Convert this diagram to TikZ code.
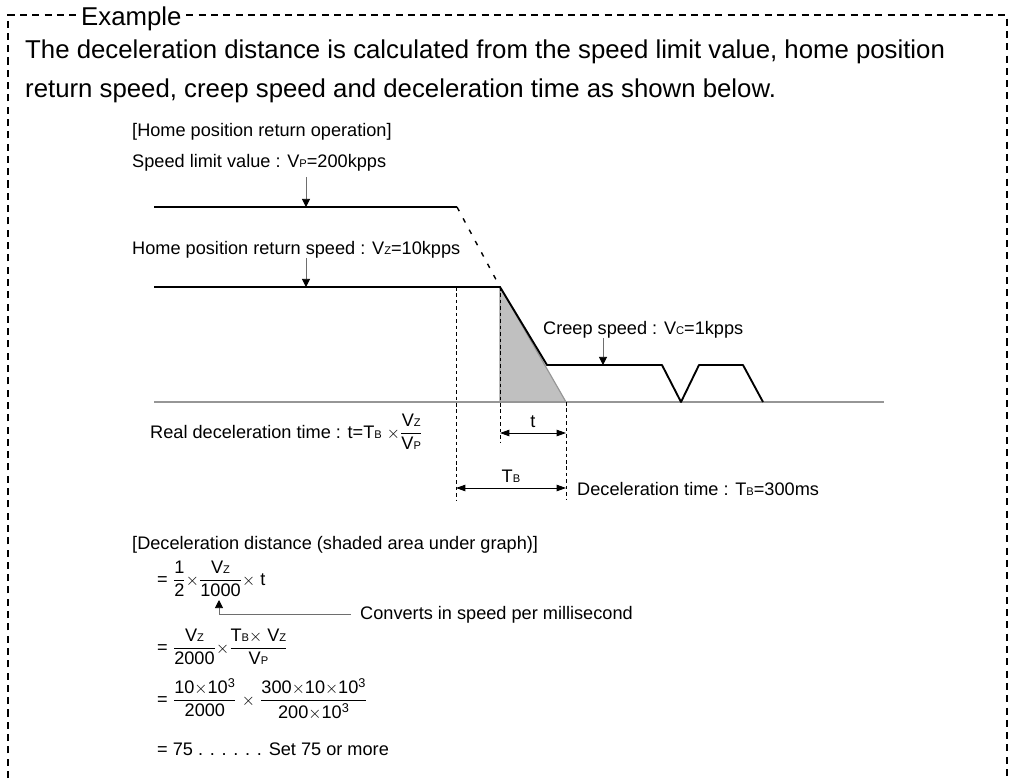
\documentclass[tikz,border=0pt]{standalone}
\usepackage{amsmath}
\usepackage{fontspec}
\setmainfont{Liberation Sans}
\usetikzlibrary{arrows.meta, positioning, calc}
\definecolor{shadegray}{RGB}{192,192,192}
\definecolor{axisgray}{RGB}{150,150,150}
\definecolor{pingray}{RGB}{110,110,110}
% small index letters (V_P, T_B ...)
\newcommand{\ix}[1]{{\fontsize{9.5}{10}\selectfont #1}}
\newcommand{\fr}[2]{\ensuremath{\dfrac{\text{#1}}{\text{#2}}}}
\tikzset{
  bigtxt/.style={font=\fontsize{22}{26}\selectfont, inner sep=0, anchor=base west},
  txt/.style={font=\fontsize{15.5}{18}\selectfont, inner sep=0, anchor=base west},
  curve/.style={line width=1.6pt, line join=round},
  callout/.style={pingray, line width=0.8pt, -{Triangle[length=7pt,width=7pt,black]}},
  span/.style={black, line width=0.8pt, {Triangle[length=8pt,width=5.5pt]}-{Triangle[length=8pt,width=5.5pt]}},
  guide/.style={black, line width=0.6pt, dash pattern=on 3pt off 2.5pt},
  frame/.style={line width=2pt, dash pattern=on 6pt off 4.5pt}
}
\begin{document}
\begin{tikzpicture}[x=0.03cm,y=-0.03cm]
\useasboundingbox (0,0) rectangle (1009,778);

% dashed frame
\node[bigtxt] (exlbl) at (81,25) {Example};
\coordinate (fr0) at (8,778);
\coordinate (ftl) at (8,15);
\coordinate (ftr) at (1007,15);
\coordinate (fr1) at (1007,778);
\draw[frame, shorten >=4pt] (fr0) -- (ftl) -- (exlbl.west |- ftl);
\draw[frame, shorten <=4pt] (exlbl.east |- ftr) -- (ftr) -- (fr1);

\node[bigtxt] (intro1) at (25,58) {The deceleration distance is calculated from the speed limit value, home position};
\node[bigtxt] (intro2) at (25,97) {return speed, creep speed and deceleration time as shown below.};

% graph
\node[txt] (optitle) at (132,136) {[Home position return operation]};
\node[txt] (vplbl) at (132,167) {Speed limit value : V\ix{P}=200kpps};
\node[txt] (vzlbl) at (132,254) {Home position return speed : V\ix{Z}=10kpps};
\node[txt] (vclbl) at (543,334) {Creep speed : V\ix{C}=1kpps};

\coordinate (vp0) at (154,207);
\coordinate (vp1) at (457,207);
\coordinate (vz0) at (154,287);
\coordinate (vz1) at (500,287);
\coordinate (cr0) at (547,365);
\coordinate (cr1) at (662,365);
\coordinate (dip) at (681,402);
\coordinate (cr2) at (699,365);
\coordinate (cr3) at (743,365);
\coordinate (stop) at (763,402);
\coordinate (ax0) at (154,402);
\coordinate (ax1) at (884,402);
\coordinate (foot) at (500,402);
\coordinate (tend) at (566,402);

\fill[shadegray] (vz1) -- (tend) -- (foot) -- cycle;
\draw[axisgray, line width=1.4pt] (ax0) -- (ax1);
\draw[axisgray, line width=1pt] (vz1) -- (tend) (vz1) -- (foot);
\draw[curve] (vp0) -- (vp1);
\draw[line width=1.2pt, dash pattern=on 4pt off 7pt] (vp1) -- (vz1);
\draw[curve] (vz0) -- (vz1) -- (cr0) -- (cr1) -- (dip) -- (cr2) -- (cr3) -- (stop);

\coordinate (vptip) at (306,207);
\coordinate (vztip) at (306,287);
\coordinate (vctip) at (603,365);
\draw[callout, shorten <=5pt] (vptip |- vplbl.south) -- (vptip);
\draw[callout] (vztip |- vzlbl.south) -- (vztip);
\draw[callout] (vctip |- vclbl.south) -- (vctip);

% time spans
\coordinate (g0a) at (456,287);
\coordinate (g0b) at (456,500);
\coordinate (g1b) at (500,443);
\coordinate (g2b) at (566,500);
\draw[guide] (g0a) -- (g0b);
\draw[guide] (vz1) -- (g1b);
\draw[guide] (tend) -- (g2b);
\draw[span] (g1b |- 0,433) coordinate (ta) -- (g2b |- 0,433) coordinate (tb);
\draw[span] (g0b |- 0,488) coordinate (TBa) -- (g2b |- 0,488) coordinate (TBb);
\node[txt, anchor=base] (tlbl) at ($(ta)!0.5!(tb) + (0,-6)$) {t};
\node[txt, anchor=base] (TBlbl) at ($(TBa)!0.5!(TBb) + (0,-6)$) {T\ix{B}};
\node[txt] (declbl) at (577,495) {Deceleration time : T\ix{B}=300ms};
\node[txt] (reallbl) at (150,438) {Real deceleration time : t=T\ix{B} $\times$\fr{V\ix{Z}}{V\ix{P}}};

% deceleration distance
\node[txt] (disttl) at (132,549) {[Deceleration distance (shaded area under graph)]};
\node[txt] (eq1) at (157,585) {= \fr{1}{2}$\times$\fr{V\ix{Z}}{1000}$\times$ t};
\coordinate (cvtip) at (219,600);
\node[txt] (conv) at (360,619) {Converts in speed per millisecond};
\draw[callout, shorten <=8pt] (conv.west) -| (cvtip);
\node[txt] (eq2) at (157,653) {= \fr{V\ix{Z}}{2000}$\times$\fr{T\ix{B}$\times$ V\ix{Z}}{V\ix{P}}};
\node[txt] (eq3) at (157,705) {= \fr{10$\times$10\textsuperscript{3}}{2000} $\times$ \fr{300$\times$10$\times$10\textsuperscript{3}}{200$\times$10\textsuperscript{3}}};
\node[txt] (eq4) at (157,755) {= 75 . . . . . . Set 75 or more};
\end{tikzpicture}
\end{document}
